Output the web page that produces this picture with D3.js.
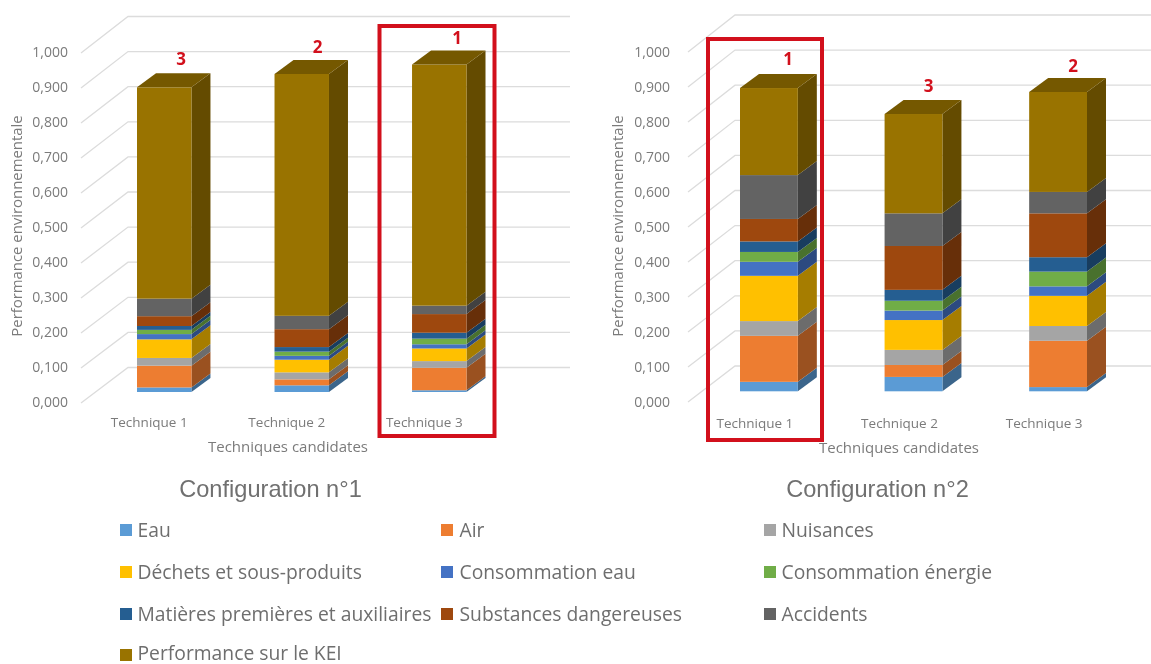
<!DOCTYPE html>
<html><head><meta charset="utf-8">
<script src="https://cdn.jsdelivr.net/npm/d3@7/dist/d3.min.js"></script>
<style>html,body{margin:0;background:#fff}svg{display:block;filter:blur(0.35px)}text{font-family:"Open Sans",sans-serif}</style>
</head><body><div id="c"></div>
<script>
const seriesNames=["Eau","Air","Nuisances","Déchets et sous-produits","Consommation eau","Consommation énergie","Matières premières et auxiliaires","Substances dangereuses","Accidents","Performance sur le KEI"];
const seriesColors=["#5B9BD5","#ED7D31","#A5A5A5","#FFC000","#4472C4","#70AD47","#255E91","#9E480E","#636363","#997300"];
const techniques=["Technique 1","Technique 2","Technique 3"];
const yTicks=[0,0.1,0.2,0.3,0.4,0.5,0.6,0.7,0.8,0.9,1];
const conf1T1=[.013,.062,.022,.053,.015,.012,.011,.028,.050,.602];
const conf1T2=[.019,.017,.020,.036,.011,.012,.013,.051,.038,.689];
const conf1T3=[.005,.064,.019,.036,.012,.016,.017,.053,.024,.687];
const conf2T1=[.027,.131,.042,.129,.040,.028,.030,.064,.125,.248];
const conf2T2=[.041,.034,.043,.085,.027,.028,.031,.125,.093,.283];
const conf2T3=[.012,.132,.042,.086,.027,.042,.041,.125,.061,.285];
const ranks1=[3,2,1];
const ranks2=[1,3,2];

const svg=d3.select("#c").append("svg").attr("width",1151).attr("height",664);
const grey="#7b7b7b";
const comma=v=>d3.format(".3f")(v).replace(".",",");

function chart(o){
  const g=svg.append("g");
  const yFront=d3.scaleLinear().domain([0,1]).range(o.frontY);
  const yBack=d3.scaleLinear().domain([0,1]).range(o.backY);
  const yBar=d3.scaleLinear().domain([0,1]).range(o.barY);
  const yLab=d3.scaleLinear().domain([0,1]).range(o.labY);
  const x=d3.scaleBand().domain(techniques).range(o.barX).paddingInner(o.pad).paddingOuter(0);
  const gl=g.append("g").attr("fill","none").attr("stroke","#dcdcdc").attr("stroke-width",1.3);
  gl.selectAll("path").data(yTicks).join("path")
    .attr("d",v=>`M${o.gridX[0]},${yFront(v)}L${o.gridX[1]},${yBack(v)}H${o.gridX[2]}`);
  const ax=g.append("g").attr("transform",`translate(${o.axisX},0)`)
    .call(d3.axisLeft(yLab).tickValues(yTicks).tickSize(0).tickPadding(0).tickFormat(comma));
  ax.select(".domain").remove();
  ax.selectAll("text").attr("fill",grey).style("font-size","14px").style("font-family",'"Open Sans"');
  const table=o.data.map(a=>Object.fromEntries(seriesNames.map((s,i)=>[s,a[i]])));
  const stack=d3.stack().keys(seriesNames)(table);
  const D=o.depth,E=14;
  stack.forEach((layer,si)=>{
    const col=d3.color(seriesColors[si]);
    const side=col.darker(1.2);
    const lg=g.append("g");
    layer.forEach((d,i)=>{
      const x0=x(techniques[i]),x1=x0+x.bandwidth();
      const yb=yBar(d[0]),yt=yBar(d[1]);
      lg.append("path").attr("fill",side).attr("d",`M${x1},${yb}L${x1+D},${yb-E}V${yt-E}L${x1},${yt}Z`);
      lg.append("rect").attr("fill",col).attr("x",x0).attr("y",yt).attr("width",x.bandwidth()).attr("height",yb-yt);
      if(si===seriesNames.length-1){
        lg.append("path").attr("fill",col.darker(0.75)).attr("d",`M${x0},${yt}L${x0+D},${yt-E}H${x1+D}L${x1},${yt}Z`);
      }
    });
  });
  const xa=g.append("g").attr("transform",`translate(${o.catShift},${o.catY})`)
    .call(d3.axisBottom(x).tickSize(0).tickPadding(0));
  xa.select(".domain").remove();
  xa.selectAll("text").attr("fill",grey).style("font-size","13.5px").style("font-family",'"Open Sans"');
  g.append("text").attr("transform",`translate(${o.yTitleX},226) rotate(-90)`).attr("text-anchor","middle")
    .attr("fill",grey).style("font-size","14.9px").text("Performance environnementale");
  g.append("text").attr("x",o.xTitleX).attr("y",o.xTitleY).attr("text-anchor","middle").attr("fill",grey)
    .style("font-size","15px").text("Techniques candidates");
  g.append("text").attr("x",o.confX).attr("y",497).attr("text-anchor","middle").attr("fill","#707070")
    .style("font-family",'"Liberation Sans"').style("font-size","23.6px").text(o.conf);
  g.append("rect").attr("x",o.box[0]).attr("y",o.box[1]).attr("width",o.box[2]).attr("height",o.box[3])
    .attr("fill","none").attr("stroke","#d2101c").attr("stroke-width",4);
  g.selectAll(".rank").data(o.ranks).join("text").attr("class","rank")
    .attr("x",(d,i)=>x(techniques[i])+o.rankDx[i])
    .attr("y",(d,i)=>yBar(d3.sum(o.data[i]))-o.rankDy[i])
    .attr("text-anchor","middle").attr("fill","#d2101c").style("font-size","17px").style("font-weight",700).text(d=>d);
}
chart({data:[conf1T1,conf1T2,conf1T3],ranks:ranks1,conf:"Configuration n°1",
  frontY:[403,53],backY:[367.5,16.5],barY:[392,41],labY:[402,52],gridX:[81,128,570],axisX:68,
  barX:[137,466.5],pad:.604,depth:19,catShift:-15,catY:417,yTitleX:22,xTitleX:288,xTitleY:452,confX:270.5,
  box:[379.5,26,115,410],rankDx:[44,43,45],rankDy:[22,21,21]});
chart({data:[conf2T1,conf2T2,conf2T3],ranks:ranks2,conf:"Configuration n°2",
  frontY:[402,52],backY:[366,15],barY:[391.3,40.3],labY:[402,52],gridX:[688,735,1151],axisX:670,
  barX:[740,1087],pad:.6,depth:19,catShift:-14,catY:418,yTitleX:623,xTitleX:899,xTitleY:453,confX:877.5,
  box:[708,39,114,401],rankDx:[48,44,44],rankDy:[23,22,20]});

const legX=[120,441,764],legY=[531,573,615,653.5];
const leg=svg.append("g").selectAll("g").data(seriesNames).join("g")
  .attr("transform",(d,i)=>`translate(${legX[i%3]},${legY[Math.floor(i/3)]})`);
leg.append("rect").attr("x",0).attr("y",(d,i)=>i===9?-4.5:-7).attr("width",12).attr("height",12).attr("fill",(d,i)=>seriesColors[i]);
leg.append("text").attr("x",(d,i)=>i%3===1?18.5:17.5).attr("y",6).attr("fill","#6e6e6e").style("font-size","19.3px").text(d=>d);
</script></body></html>
